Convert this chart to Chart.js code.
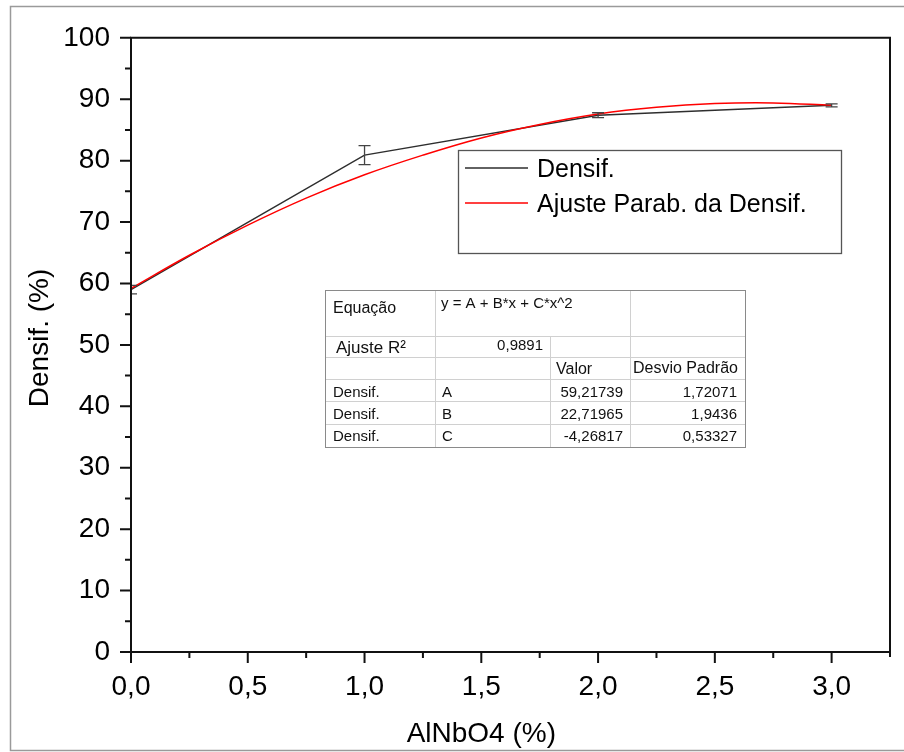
<!DOCTYPE html>
<html>
<head>
<meta charset="utf-8">
<script src="https://cdn.jsdelivr.net/npm/chart.js@4/dist/chart.umd.min.js"></script>
<style>
  html, body { margin: 0; padding: 0; background: #fff; }
  #wrap { width: 904px; height: 752px; position: relative; }
</style>
</head>
<body>
<div id="wrap"><canvas id="chart" width="904" height="752"></canvas></div>
<script>
// Data
const densX = [0, 1, 2, 3];
const densY = [59.0, 80.9, 87.4, 89.0];
const densErr = [0.7, 1.55, 0.4, 0.25];

const fitX = [0, 0.25, 0.5, 0.75, 1.0, 1.25, 1.5, 1.75, 2.0, 2.25, 2.5, 2.75, 3.0];
const fitY = [59.2, 64.6, 69.5, 73.9, 77.7, 80.9, 83.7, 85.9, 87.6, 88.7, 89.3, 89.4, 89.0];

const xTicks = [0, 0.5, 1.0, 1.5, 2.0, 2.5, 3.0];
const xMinor = [0.25, 0.75, 1.25, 1.75, 2.25, 2.75];
const yTicks = [0, 10, 20, 30, 40, 50, 60, 70, 80, 90, 100];
const yMinor = [5, 15, 25, 35, 45, 55, 65, 75, 85, 95];

const labels = ['Densif.', 'Ajuste Parab. da Densif.'];
const xTitle = 'AlNbO4 (%)';
const yTitle = 'Densif. (%)';

// Fit result table (rows of cells)
const tableRows = [
  ['Equação', 'y = A + B*x + C*x^2', '', ''],
  ['Ajuste R²', '0,9891', '', ''],
  ['', '', 'Valor', 'Desvio Padrão'],
  ['Densif.', 'A', '59,21739', '1,72071'],
  ['Densif.', 'B', '22,71965', '1,9436'],
  ['Densif.', 'C', '-4,26817', '0,53327']
];

const FONT = '"Liberation Sans", Arial, sans-serif';

function fmtComma(v) {
  return v.toFixed(1).replace('.', ',');
}

/**
 * Frame, ticks, error bars, axis titles, legend box and table
 */
const decorPlugin = {
  id: 'decor',
  beforeDraw(chart) {
    const c = chart.ctx;
    c.save();
    c.fillStyle = '#fff';
    c.fillRect(0, 0, chart.width, chart.height);
    // outer grey frame
    c.strokeStyle = '#9a9a9a';
    c.lineWidth = 1.5;
    c.beginPath();
    c.moveTo(905, 6.5); c.lineTo(10.5, 6.5); c.lineTo(10.5, 750.5); c.lineTo(905, 750.5);
    c.stroke();
    c.restore();
  },
  afterDatasetsDraw(chart) {
    const c = chart.ctx;
    const xs = chart.scales.x, ys = chart.scales.y;
    const a = chart.chartArea;

    // error bars, clipped to the plot area
    c.save();
    c.beginPath();
    c.rect(a.left, a.top, a.right - a.left, a.bottom - a.top);
    c.clip();
    c.strokeStyle = '#444';
    c.lineWidth = 1.3;
    densX.forEach((x, i) => {
      const px = xs.getPixelForValue(x);
      const top = ys.getPixelForValue(densY[i] + densErr[i]);
      const bot = ys.getPixelForValue(densY[i] - densErr[i]);
      c.beginPath();
      c.moveTo(px, top); c.lineTo(px, bot);
      c.moveTo(px - 6, top); c.lineTo(px + 6, top);
      c.moveTo(px - 6, bot); c.lineTo(px + 6, bot);
      c.stroke();
    });
    c.restore();
  },
  afterDraw(chart) {
    const c = chart.ctx;
    const xs = chart.scales.x, ys = chart.scales.y;
    const a = chart.chartArea;
    c.save();
    c.strokeStyle = '#111';
    c.lineWidth = 2;
    // axes box
    c.beginPath();
    c.moveTo(a.left, a.bottom + 11); c.lineTo(a.left, a.top);
    c.lineTo(a.right, a.top); c.lineTo(a.right, a.bottom + 5);
    c.moveTo(a.left - 11, a.bottom); c.lineTo(a.right, a.bottom);
    c.stroke();
    // ticks
    c.beginPath();
    yTicks.forEach(v => { const p = ys.getPixelForValue(v); c.moveTo(a.left - 11, p); c.lineTo(a.left, p); });
    yMinor.forEach(v => { const p = ys.getPixelForValue(v); c.moveTo(a.left - 6, p); c.lineTo(a.left, p); });
    xTicks.forEach(v => { const p = xs.getPixelForValue(v); c.moveTo(p, a.bottom); c.lineTo(p, a.bottom + 11); });
    xMinor.forEach(v => { const p = xs.getPixelForValue(v); c.moveTo(p, a.bottom); c.lineTo(p, a.bottom + 6); });
    c.stroke();

    // axis titles
    c.fillStyle = '#000';
    c.font = '28px ' + FONT;
    c.textAlign = 'center';
    c.textBaseline = 'middle';
    c.fillText(xTitle, (xs.getPixelForValue(0) + xs.getPixelForValue(3)) / 2, 734);
    c.save();
    c.translate(40, 338);
    c.rotate(-Math.PI / 2);
    c.fillText(yTitle, 0, 0);
    c.restore();

    // legend box
    c.fillStyle = '#fff';
    c.fillRect(458, 150, 383, 103);
    c.strokeStyle = '#555';
    c.lineWidth = 1.3;
    c.strokeRect(458.5, 150.5, 383, 103);
    c.font = '25px ' + FONT;
    c.textAlign = 'left';
    c.textBaseline = 'alphabetic';
    const lgY = [168, 203];
    chart.data.datasets.forEach((ds, i) => {
      c.strokeStyle = ds.borderColor;
      c.lineWidth = 1.3;
      c.beginPath();
      c.moveTo(465, lgY[i]); c.lineTo(528, lgY[i]);
      c.stroke();
      c.fillStyle = '#000';
      c.fillText(labels[i], 537, lgY[i] + 9);
    });

    // fit table
    c.fillStyle = '#fff';
    c.fillRect(325, 290, 420, 157);
    c.strokeStyle = '#d0d0d0';
    c.lineWidth = 1;
    c.beginPath();
    [336, 357, 379, 401, 424].forEach(y => { c.moveTo(325, y + 0.5); c.lineTo(745, y + 0.5); });
    c.moveTo(435.5, 290); c.lineTo(435.5, 447);
    c.moveTo(550.5, 336); c.lineTo(550.5, 447);
    c.moveTo(630.5, 290); c.lineTo(630.5, 447);
    c.stroke();
    c.strokeStyle = '#8a8a8a';
    c.strokeRect(325.5, 290.5, 420, 157);

    c.fillStyle = '#111';
    c.textBaseline = 'alphabetic';
    c.textAlign = 'left';
    c.font = '16px ' + FONT;
    c.fillText(tableRows[0][0], 333, 313);
    c.font = '15px ' + FONT;
    c.fillText(tableRows[0][1], 441, 308);
    c.font = '17px ' + FONT;
    c.fillText(tableRows[1][0], 336, 353);
    c.font = '15px ' + FONT;
    c.textAlign = 'right';
    c.fillText(tableRows[1][1], 543, 350);
    c.font = '16px ' + FONT;
    c.textAlign = 'left';
    c.fillText(tableRows[2][2], 556, 374);
    c.fillText(tableRows[2][3], 633, 373);
    c.font = '15px ' + FONT;
    const bases = [397, 419, 441];
    for (let r = 3; r < 6; r++) {
      const b = bases[r - 3];
      c.textAlign = 'left';
      c.fillText(tableRows[r][0], 333, b);
      c.fillText(tableRows[r][1], 442, b);
      c.textAlign = 'right';
      c.fillText(tableRows[r][2], 623, b);
      c.fillText(tableRows[r][3], 737, b);
    }
    c.restore();
  }
};

const ctx = document.getElementById('chart').getContext('2d');

new Chart(ctx, {
  type: 'line',
  data: {
    datasets: [{
      label: labels[0],
      data: densX.map((x, i) => ({ x: x, y: densY[i] })),
      borderColor: '#2e2e2e',
      borderWidth: 1.5,
      pointRadius: 0,
      tension: 0,
      order: 2
    }, {
      label: labels[1],
      data: fitX.map((x, i) => ({ x: x, y: fitY[i] })),
      borderColor: '#ff0000',
      borderWidth: 1.5,
      pointRadius: 0,
      tension: 0.4,
      order: 1
    }]
  },
  options: {
    responsive: false,
    animation: false,
    layout: { padding: { top: 36, right: 14, left: 0, bottom: 0 } },
    plugins: {
      legend: { display: false },
      tooltip: { enabled: false }
    },
    scales: {
      x: {
        type: 'linear',
        min: 0,
        max: 3.25,
        afterBuildTicks: (scale) => { scale.ticks = xTicks.map(v => ({ value: v })); },
        afterFit: (scale) => { scale.height = 100; },
        grid: { display: false, drawTicks: false },
        border: { display: false },
        ticks: {
          padding: 18,
          color: '#000',
          font: { family: FONT, size: 28 },
          maxRotation: 0,
          callback: (v) => fmtComma(v)
        }
      },
      y: {
        type: 'linear',
        min: 0,
        max: 100,
        afterBuildTicks: (scale) => { scale.ticks = yTicks.map(v => ({ value: v })); },
        afterFit: (scale) => { scale.width = 131; },
        grid: { display: false, drawTicks: false },
        border: { display: false },
        ticks: {
          padding: 21,
          color: '#000',
          font: { family: FONT, size: 28 },
          callback: (v) => String(v)
        }
      }
    }
  },
  plugins: [decorPlugin]
});
</script>
</body>
</html>
